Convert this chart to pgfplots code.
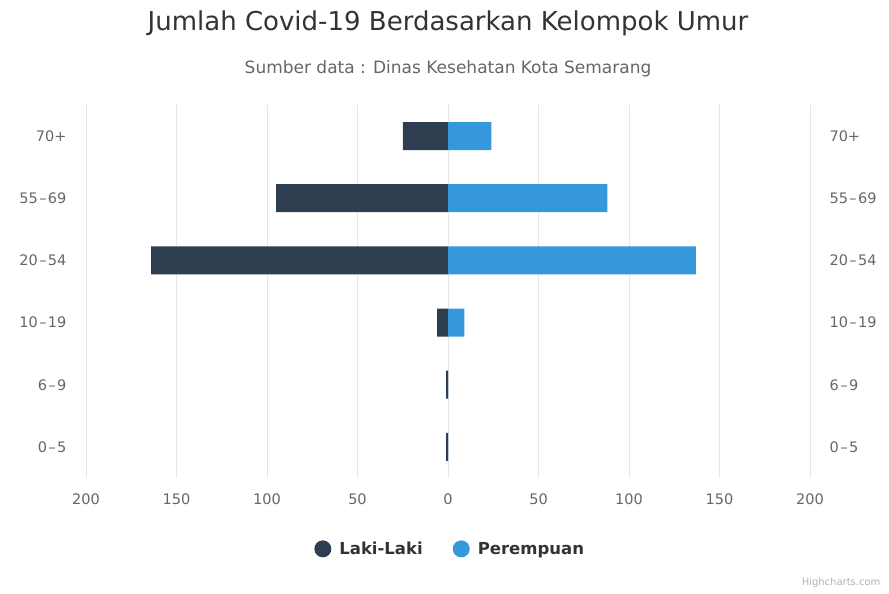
\documentclass[border=0pt]{standalone}
\usepackage{pgfplots}
\pgfplotsset{compat=1.18}
\usepackage{fontspec}
\setmainfont{DejaVu Sans}
\definecolor{laki}{HTML}{2C3E50}
\definecolor{perem}{HTML}{3498DB}
\definecolor{gridc}{HTML}{E6E6E6}
\definecolor{txt}{HTML}{333333}
\definecolor{lbl}{HTML}{666666}
\begin{document}
\begin{tikzpicture}[x=1pt,y=1pt]
\useasboundingbox (0pt,0pt) rectangle (889pt,594pt);
\node[font=\fontsize{26}{26}\selectfont, text=txt] at (448pt,571pt) {Jumlah Covid-19 Berdasarkan Kelompok Umur};
\node[font=\fontsize{17}{17}\selectfont, text=lbl] at (448pt,525pt) {Sumber data : Dinas Kesehatan Kota Semarang};
\node[font=\fontsize{10}{10}\selectfont, text=gray!60, anchor=east] at (884pt,11pt) {Highcharts.com};
\begin{axis}[
  at={(86pt,116pt)}, anchor=south west, scale only axis, width=724pt, height=373pt,
  xmin=-200, xmax=200, ymin=-0.5, ymax=5.5,
  xtick={-200,-150,...,200},
  ytick={0,...,5},
  yticklabels={0\kern1.5pt--\kern1.5pt5,6\kern1.5pt--\kern1.5pt9,10\kern1.5pt--\kern1.5pt19,20\kern1.5pt--\kern1.5pt54,55\kern1.5pt--\kern1.5pt69,70+},
  xticklabel={\pgfmathparse{abs(\tick)}\pgfmathprintnumber{\pgfmathresult}},
  /pgf/number format/assume math mode=true,
  xmajorgrids, grid style={gridc, line width=0.8pt},
  axis line style={draw=none}, major tick length=0pt,
  tick label style={font=\fontsize{14.5}{14.5}\selectfont, text=lbl},
  xticklabel shift=12pt, yticklabel shift=16pt,
  xbar, bar width=28pt, bar shift=0pt,
  legend columns=2,
  legend style={at={(0.503,-0.19)}, anchor=center, draw=none, fill=none,
    font=\bfseries\fontsize{16.5}{16.5}\selectfont, text=txt,
    /tikz/every odd column/.append style={column sep=6pt},
    /tikz/every even column/.append style={column sep=28pt}},
  legend image code/.code={\fill[#1] (4pt,0pt) circle (8.5pt);},
]
\addplot[fill=laki, draw=none] coordinates {(-1,0) (-1,1) (-6,2) (-164,3) (-95,4) (-25,5)};
\addplot[fill=perem, draw=none] coordinates {(0,0) (0,1) (9,2) (137,3) (88,4) (24,5)};
\legend{Laki-Laki, Perempuan}
\end{axis}
\begin{axis}[
  at={(86pt,116pt)}, anchor=south west, scale only axis, width=724pt, height=373pt,
  xmin=-200, xmax=200, ymin=-0.5, ymax=5.5,
  hide x axis, axis line style={draw=none}, major tick length=0pt,
  ytick={0,...,5}, ytick pos=right, yticklabel pos=right,
  yticklabels={0\kern1.5pt--\kern1.5pt5,6\kern1.5pt--\kern1.5pt9,10\kern1.5pt--\kern1.5pt19,20\kern1.5pt--\kern1.5pt54,55\kern1.5pt--\kern1.5pt69,70+},
  tick label style={font=\fontsize{14.5}{14.5}\selectfont, text=lbl},
  yticklabel shift=16pt,
]
\end{axis}
\end{tikzpicture}
\end{document}
